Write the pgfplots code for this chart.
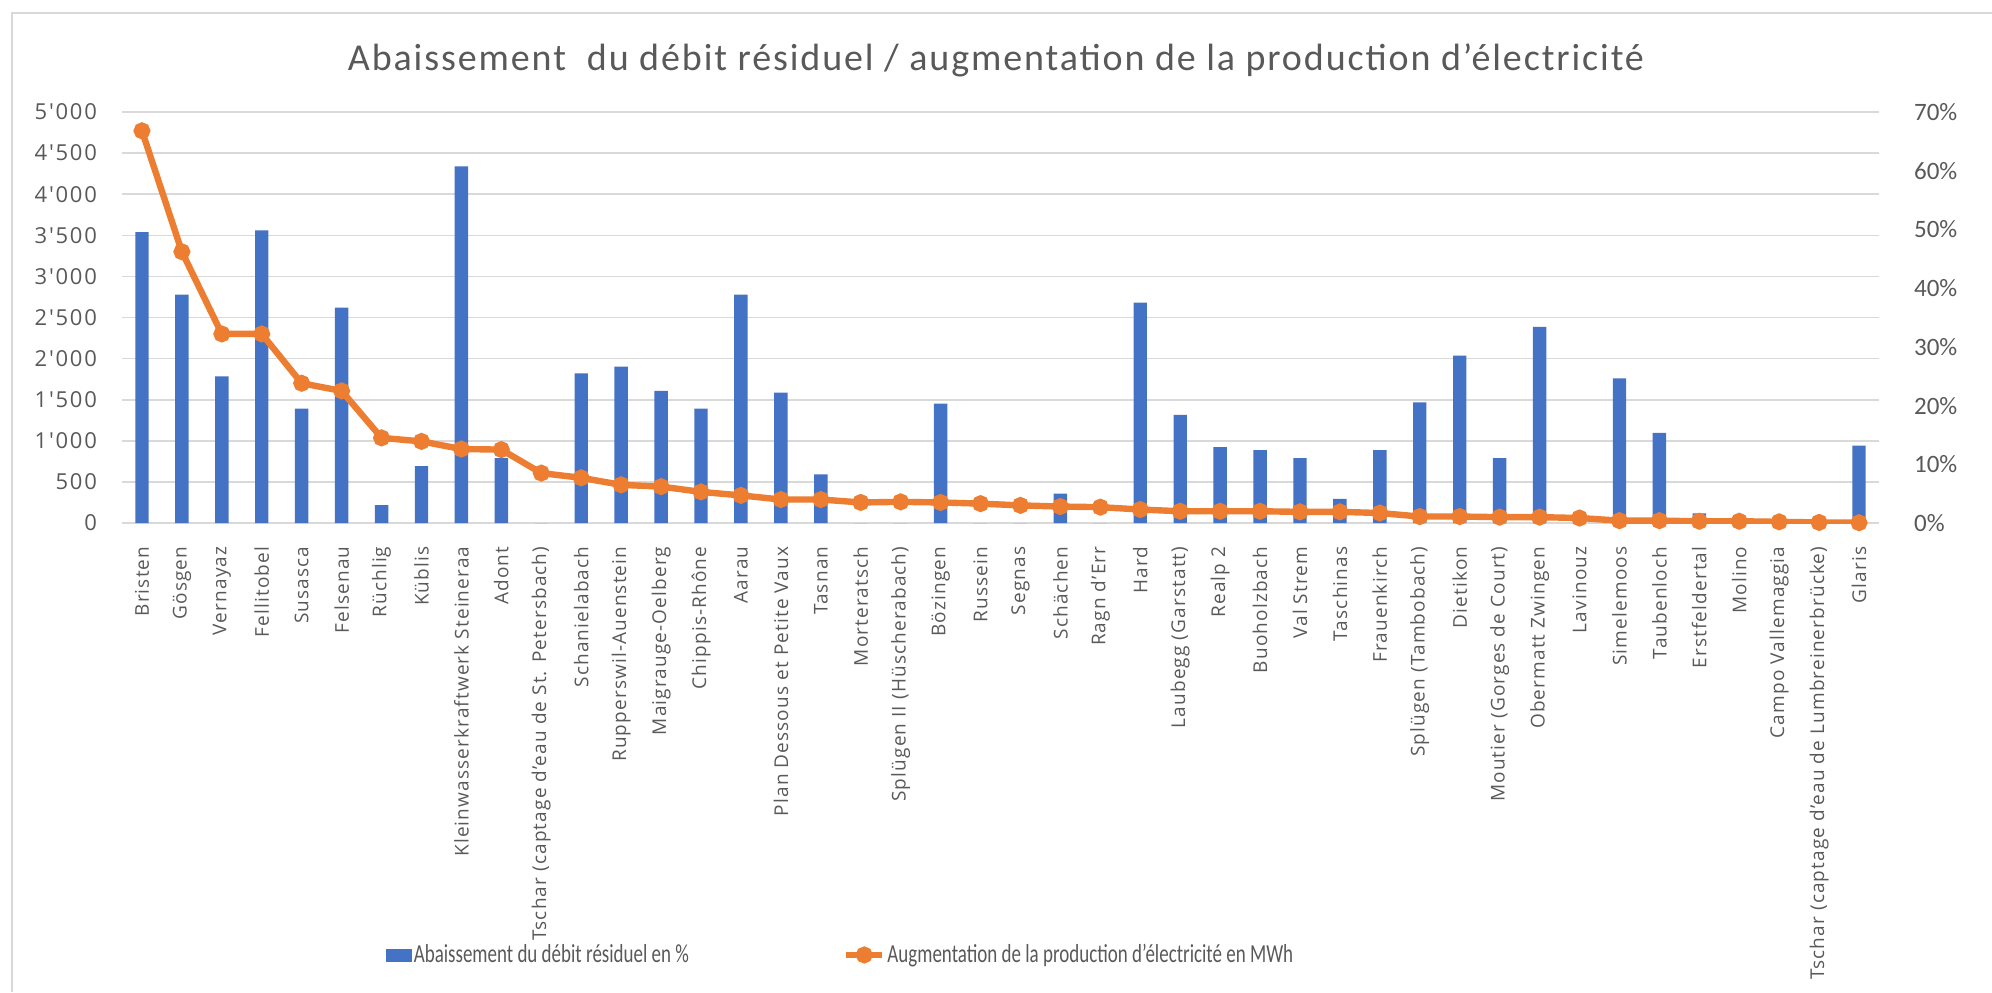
\documentclass[border=0pt]{standalone}
\usepackage{fontspec}
\setmainfont{Open Sans}
\newfontfamily\labfont[LetterSpace=6]{Open Sans}
\newfontfamily\tickfont[LetterSpace=8]{Open Sans}
\newfontfamily\rfont{Carlito}
\newfontfamily\calfont[LetterSpace=5]{Carlito}
\newfontfamily\legfont[FakeStretch=0.73]{Carlito}
\usepackage{pgfplots}
\usepackage{pgfplotstable}
\pgfplotsset{compat=1.18}
\definecolor{barblue}{HTML}{4472C4}
\definecolor{lineorange}{HTML}{ED7D31}
\definecolor{gridgray}{HTML}{D9D9D9}
\definecolor{txtgray}{HTML}{595959}
\pgfplotsset{
  linelegend/.style={legend image code/.code={\draw[mark repeat=2, mark phase=2, ##1]
    plot coordinates {(0pt,0pt) (9pt,0pt) (18pt,0pt)};}},
  barlegend/.style={legend image code/.code={\fill[barblue] (0pt,-3pt) rectangle (12.5pt,3pt);}},
}

% bar: Abaissement du debit residuel (left axis), line: augmentation (right axis, %)
\pgfplotstableread{
idx bar line
0 3540 66.8
1 2779 46.2
2 1784 32.2
3 3560 32.2
4 1392 23.8
5 2621 22.5
6 218 14.5
7 692 13.9
8 4340 12.6
9 789 12.5
10 0 8.5
11 1820 7.7
12 1901 6.5
13 1606 6.2
14 1392 5.3
15 2779 4.7
16 1586 4.0
17 591 4.0
18 0 3.5
19 0 3.6
20 1452 3.5
21 0 3.3
22 0 3.0
23 356 2.8
24 0 2.7
25 2682 2.3
26 1315 2.0
27 922 2.0
28 886 2.0
29 789 1.9
30 295 1.9
31 886 1.7
32 1468 1.1
33 2035 1.1
34 789 1.0
35 2387 1.0
36 0 0.85
37 1760 0.4
38 1096 0.4
39 117 0.3
40 0 0.3
41 0 0.2
42 0 0.1
43 942 0.05
}\data

\begin{document}
\begin{tikzpicture}
\useasboundingbox (0,0) rectangle (996pt,496pt);
\draw[gridgray, line width=1pt] (6pt,0pt) -- (6pt,489.5pt) -- (996pt,489.5pt);
\node[font=\calfont\fontsize{19}{21}\selectfont, text=txtgray] at (498pt,466pt)
  {Abaissement\ \ du débit résiduel / augmentation de la production d’électricité};

\begin{axis}[
  at={(61pt,234.5pt)}, anchor=south west,
  scale only axis, width=878.5pt, height=205.5pt,
  xmin=-0.5, xmax=43.5, ymin=0, ymax=5000,
  ytick={0,500,...,5000},
  xtick={0,...,43},
  xticklabels={Bristen, Gösgen, Vernayaz, Fellitobel, Susasca, Felsenau, Rüchlig, Küblis,
    Kleinwasserkraftwerk Steineraa, Adont, {Tschar (captage d’eau de St. Petersbach)},
    Schanielabach, Rupperswil-Auenstein, Maigrauge-Oelberg, Chippis-Rhône, Aarau,
    Plan Dessous et Petite Vaux, Tasnan, Morteratsch, {Splügen II (Hüscherabach)},
    Bözingen, Russein, Segnas, Schächen, Ragn d’Err, Hard, {Laubegg (Garstatt)},
    Realp 2, Buoholzbach, Val Strem, Taschinas, Frauenkirch, {Splügen (Tambobach)},
    Dietikon, {Moutier (Gorges de Court)}, Obermatt Zwingen, Lavinouz, Simelemoos,
    Taubenloch, Erstfeldertal, Molino, Campo Vallemaggia,
    {Tschar (captage d’eau de Lumbreinerbrücke)}, Glaris},
  axis line style={draw=none}, tick style={draw=none},
  ymajorgrids, grid style={gridgray, line width=0.8pt},
  /pgf/number format/1000 sep={'},
  /pgf/number format/assume math mode=true,
  yticklabel style={font=\tickfont\fontsize{11}{13}\selectfont, text=txtgray},
  yticklabel shift=9pt,
  xticklabel style={rotate=90, anchor=east, font=\labfont\fontsize{9.5}{11}\selectfont, text=txtgray},
  xticklabel shift=4pt,
  ybar, bar width=6.7pt,
]
\addplot[fill=barblue, draw=none] table[x=idx, y=bar] {\data};
\end{axis}

\begin{axis}[
  at={(61pt,234.5pt)}, anchor=south west,
  scale only axis, width=878.5pt, height=205.5pt,
  xmin=-0.5, xmax=43.5, ymin=0, ymax=70,
  axis y line*=right, axis x line=none,
  ytick={0,10,...,70},
  yticklabel={\pgfmathprintnumber{\tick}\%},
  axis line style={draw=none}, tick style={draw=none},
  /pgf/number format/assume math mode=true,
  yticklabel style={font=\rfont\fontsize{12.5}{14}\selectfont, text=txtgray},
  yticklabel shift=14pt,
  legend columns=2,
  legend style={at={(0.409,-1.051)}, anchor=center, draw=none, fill=none,
    font=\legfont\fontsize{13}{15}\selectfont, text=txtgray,
    nodes={inner xsep=1pt},
    /tikz/every even column/.append style={column sep=76pt}},
]
\addlegendimage{barlegend}
\addlegendentry{Abaissement du débit résiduel en \%}
\addplot[lineorange, line width=3.2pt, mark=*, mark size=2.6pt,
  mark options={fill=lineorange, draw=lineorange}, linelegend]
  table[x=idx, y=line] {\data};
\addlegendentry{Augmentation de la production d’électricité en MWh}
\end{axis}
\end{tikzpicture}
\end{document}
